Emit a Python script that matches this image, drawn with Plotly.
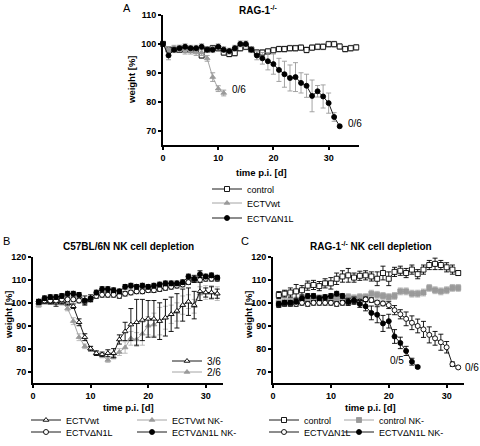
import plotly.graph_objects as go

FONT = "Liberation Sans"
BLACK = "#000000"
GRAY = "#9a9a9a"
LGRAY = "#b5b5b5"

# ---------------- Panel A: RAG-1-/- ----------------
a_days_ctrl = list(range(0, 36))
a_ctrl = [100, 98, 98, 98, 98, 98, 98, 96, 98, 98.5, 98.5, 97, 96.5, 96.8, 98.5, 99, 98, 97,
          97, 97.4, 97.8, 98.2, 98.2, 98.5, 98.5, 98.7, 97.9, 98.7, 99, 99, 99.9, 99.9, 99.1,
          98.2, 98.5, 98.8]
a_ctrl_err = [0, 1, 1, 1, 1.5, 1, 1, 1, 1, 1, 1, 1, 1, 1, 1, 1, 1, 1, 1, 1, 1, 1, 1, 1, 1,
              1, 1, 1, 1, 1, 1, 1, 1, 1, 1, 1]
a_days_wt = list(range(0, 12))
a_wt = [100, 98, 98.5, 98.5, 98, 97.5, 97, 97, 95, 88.5, 84.5, 83]
a_wt_err = [0, 1, 1, 1, 1, 1, 1, 1, 1, 1.5, 1, 1]
a_days_dn = list(range(0, 33))
a_dn = [100, 96, 98, 98.5, 99, 98.5, 98.5, 99, 98, 98, 99, 98, 97.5, 98.5, 100, 100, 98, 96,
        95, 94, 93, 91, 89.5, 88.2, 88.5, 86.5, 85.5, 82, 83.6, 81.8, 79.5, 74.7, 71.5]
a_dn_err = [0, 1.5, 1, 1, 1, 1, 1, 1, 1, 1, 1, 1, 1, 1, 1, 1, 1, 1.5, 2, 3, 3.5, 4, 4.5, 4.5,
            5, 3.5, 4, 5.5, 2, 4, 3.5, 1.5, 0.5]

# ---------------- Panel B: C57BL/6N NK cell depletion ----------------
b_days = list(range(1, 33))
b_wt = [100, 100.5, 100.5, 100, 100.5, 100, 98.5, 91.5, 85, 80, 78, 77.5, 78, 78, 84, 87.5,
        90.5, 91.5, 92.5, 93, 93, 92, 93.5, 95, 96.5, 99, 100.5, 99, 105, 104.5, 104.5, 104]
b_wt_err = [0.5, 0.5, 1, 1.5, 1, 1, 1, 1.5, 1.5, 1, 1, 1, 1.5, 2, 2, 4, 7, 10, 9, 8, 8, 8, 8,
            7.5, 7.5, 7, 6, 6, 4, 2, 2.5, 2]
b_wtnk = [99, 100, 100, 100.5, 100, 97.5, 92, 85, 81, 80, 78, 77, 75, 76.5, 78.5, 80.5, 84.5,
          84, 86.5, 90, 90.5, 92, 93.5, 95, 96, 99, 100.5, 98.5, 104, 104.5, 104.5, 104]
b_wtnk_err = [1, 0.5, 0.5, 1, 1, 1, 1.5, 1.5, 1, 1, 1, 1, 1, 1, 1.5, 2.5, 3, 3, 5, 4, 5, 6, 5,
              4, 4, 4, 3, 3, 3, 3, 3, 3]
b_dn = [100.5, 101, 101, 101, 101.5, 101.5, 101.5, 101, 100.5, 101.5, 103, 103.5, 103.5,
        103.5, 103, 104, 104.5, 105, 105, 105.5, 105.5, 106, 106.5, 107, 107.5, 108, 109, 110,
        110, 110.5, 110.5, 110.5]
b_dn_err = [1, 1, 1, 1, 1, 1, 1, 1, 1, 1, 1, 1, 1, 1, 1, 1, 1, 1, 1, 1, 1, 1, 1, 1, 1, 1, 1,
            1, 1, 1, 1, 1]
b_dnnk = [100.5, 102, 102.5, 102.5, 103, 104, 104, 103.5, 101, 102, 104.5, 106, 106, 105.5,
          105, 107, 107.5, 107, 107.5, 107, 107.5, 108, 108.5, 108.5, 108.5, 109, 111.5, 110.5,
          112.5, 111.5, 112, 111]
b_dnnk_err = [1, 1, 1, 1, 1, 1, 1, 1, 2, 1.5, 1, 1, 1, 1, 1, 1, 1, 1, 1, 1, 1, 1, 1, 1, 1, 1,
              1, 1.5, 1.5, 1, 1, 1]

# ---------------- Panel C: RAG-1-/- NK cell depletion ----------------
c_days = list(range(1, 33))
c_ctrl = [103.4, 104, 104.5, 105, 105.5, 107.5, 107.8, 107.3, 108.5, 108.5, 110.5, 111.5, 112,
          111, 111.8, 112, 111.5, 110.5, 113, 110.5, 113.5, 114, 113, 114.5, 112.5, 114.5,
          116.5, 117, 116.5, 115.5, 114.5, 113]
c_ctrl_err = [1.5, 1.5, 2, 3, 2, 2, 2, 2, 2, 2.5, 2.5, 2.5, 3, 2, 2, 2, 2, 3, 3, 3, 2, 2, 2, 2,
              2, 2, 2, 2.5, 2, 2, 2, 1]
c_ctrlnk = [100, 100.5, 101, 101, 101.5, 101.5, 102, 102, 102, 101.5, 102, 102, 102.5, 102,
            102.5, 102.5, 104, 103.5, 103, 102.5, 103, 105, 105, 104, 104, 104.5, 106.5, 105.5,
            105, 105.5, 106.5, 106.5]
c_ctrlnk_err = [1.5, 1.5, 1.5, 1.5, 1.5, 1.5, 1.5, 1.5, 1.5, 1.5, 1.5, 1.5, 1.5, 1.5, 1.5, 1.5,
                1.5, 1.5, 1.5, 1.5, 1.5, 1.5, 1.5, 1.5, 1.5, 1.5, 1.5, 1.5, 1.5, 1.5, 1.5, 1.5]
c_dn = [99, 99.5, 99.5, 99.5, 100, 99.5, 100, 100, 100, 100, 99.5, 100, 100, 100.5, 100.5,
        101.5, 101.2, 100.1, 99.7, 99, 96.8, 95, 93, 91.3, 89.9, 88.4, 86, 84.5, 82.8, 80.6,
        73.2, 71.8]
c_dn_err = [1, 1, 1, 1, 1, 1, 1, 1, 1, 1, 1, 1, 1, 1, 1, 1, 1, 1, 1, 1.5, 2, 2, 3, 3, 3, 3.5,
            3.5, 3, 3.5, 2.5, 1, 0.5]
c_days_dnnk = list(range(1, 26))
c_dnnk = [99.5, 100, 100, 100.5, 102, 103, 103, 102, 102.5, 103, 104, 103, 100.5, 101, 99.5,
          98.5, 95.6, 94.8, 91, 92, 85.3, 82.5, 79, 74.3, 72]
c_dnnk_err = [1, 1, 1, 1, 1, 1, 1, 1, 1, 1, 1, 1, 1.5, 1.5, 1.5, 2, 3, 3.5, 3.5, 3, 3, 2.5, 2,
              1.5, 0.5]

x_ticks = [0, 10, 20, 30]
a_y_ticks = [70, 80, 90, 100, 110]
bc_y_ticks = [70, 80, 90, 100, 110, 120]

W, H = 480, 446


def px_x(p):
    return p / W


def px_y(p):
    return 1 - p / H


def series(x, y, err, name, sym, fill, col, ecol, xa, ya, leg, size=5):
    return go.Scatter(
        x=x, y=y, name=name, mode="lines+markers", xaxis=xa, yaxis=ya, legend=leg,
        line=dict(color=col, width=0.9),
        marker=dict(symbol=sym, size=size, color=fill, line=dict(color=col, width=0.9)),
        error_y=dict(type="data", array=err, color=ecol, thickness=0.9, width=2.5),
        cliponaxis=False,
    )


fig = go.Figure()

# Panel A
fig.add_trace(series(a_days_ctrl, a_ctrl, a_ctrl_err, "control", "square", "white", BLACK, GRAY, "x", "y", "legend"))
fig.add_trace(series(a_days_wt, a_wt, a_wt_err, "ECTVwt", "triangle-up", GRAY, GRAY, GRAY, "x", "y", "legend2"))
fig.add_trace(series(a_days_dn, a_dn, a_dn_err, "ECTVΔN1L", "circle", BLACK, BLACK, GRAY, "x", "y", "legend3"))

# Panel B
fig.add_trace(series(b_days, b_wtnk, b_wtnk_err, "ECTVwt NK-", "triangle-up", GRAY, GRAY, LGRAY, "x2", "y2", "legend6"))
fig.add_trace(series(b_days, b_wt, b_wt_err, "ECTVwt", "triangle-up", "white", BLACK, BLACK, "x2", "y2", "legend4"))
fig.add_trace(series(b_days, b_dn, b_dn_err, "ECTVΔN1L", "circle", "white", BLACK, BLACK, "x2", "y2", "legend5"))
fig.add_trace(series(b_days, b_dnnk, b_dnnk_err, "ECTVΔN1L NK-", "circle", BLACK, BLACK, BLACK, "x2", "y2", "legend7"))
# survival keys in B
fig.add_trace(go.Scatter(x=[None], y=[None], name="3/6", mode="lines+markers", xaxis="x2", yaxis="y2",
                         legend="legend12", line=dict(color=BLACK, width=0.9),
                         marker=dict(symbol="triangle-up", size=5, color="white", line=dict(color=BLACK, width=0.9))))
fig.add_trace(go.Scatter(x=[None], y=[None], name="2/6", mode="lines+markers", xaxis="x2", yaxis="y2",
                         legend="legend13", line=dict(color=GRAY, width=0.9),
                         marker=dict(symbol="triangle-up", size=5, color=GRAY, line=dict(color=GRAY, width=0.9))))

# Panel C
fig.add_trace(series(c_days, c_ctrlnk, c_ctrlnk_err, "control NK-", "square", GRAY, GRAY, LGRAY, "x3", "y3", "legend10"))
fig.add_trace(series(c_days, c_ctrl, c_ctrl_err, "control", "square", "white", BLACK, BLACK, "x3", "y3", "legend8"))
fig.add_trace(series(c_days, c_dn, c_dn_err, "ECTVΔN1L", "circle", "white", BLACK, BLACK, "x3", "y3", "legend9"))
fig.add_trace(series(c_days_dnnk, c_dnnk, c_dnnk_err, "ECTVΔN1L NK-", "circle", BLACK, BLACK, BLACK, "x3", "y3", "legend11"))

tickfont = dict(family=FONT, size=9, color="black", weight="bold")
titlefont = dict(family=FONT, size=9.5, color="black", weight="bold")


def xax(domain, rng, anchor):
    return dict(domain=domain, range=rng, anchor=anchor, tickvals=x_ticks, showline=True,
                linecolor="black", linewidth=2, ticks="outside", ticklen=3, tickwidth=1.5,
                tickcolor="black", showgrid=False, zeroline=False, tickfont=tickfont,
                automargin=False, fixedrange=True)


def yax(domain, rng, anchor, tv):
    return dict(domain=domain, range=rng, anchor=anchor, tickvals=tv, showline=True,
                linecolor="black", linewidth=2, ticks="outside", ticklen=3, tickwidth=1.5,
                tickcolor="black", showgrid=False, zeroline=False, tickfont=tickfont,
                automargin=False, fixedrange=True)


def leg(text_x, row_y, size=9):
    return dict(x=px_x(text_x - 40), y=px_y(row_y), xanchor="left", yanchor="middle",
                bgcolor="rgba(0,0,0,0)", borderwidth=0, itemwidth=30,
                font=dict(family=FONT, size=size, color="black"))


fig.update_layout(
    template="none",
    width=W, height=H, margin=dict(l=0, r=0, t=0, b=0, autoexpand=False),
    paper_bgcolor="white", plot_bgcolor="white",
    xaxis=xax([px_x(163), px_x(359)], [0, 35.5], "y"),
    yaxis=yax([px_y(145), px_y(15)], [65, 110], "x", a_y_ticks),
    xaxis2=xax([px_x(33), px_x(223)], [0, 33], "y2"),
    yaxis2=yax([px_y(383), px_y(257)], [65, 120], "x2", bc_y_ticks),
    xaxis3=xax([px_x(273), px_x(464)], [0, 33], "y3"),
    yaxis3=yax([px_y(383), px_y(257)], [65, 120], "x3", bc_y_ticks),
    legend=leg(247, 189), legend2=leg(247, 203), legend3=leg(247, 218),
    legend4=leg(66, 420), legend5=leg(66, 432),
    legend6=leg(172, 420), legend7=leg(172, 432),
    legend8=leg(304, 420), legend9=leg(304, 432),
    legend10=leg(379, 420), legend11=leg(379, 432),
    legend12=leg(207, 361, 10), legend13=leg(207, 372, 10),
    showlegend=True,
)

ann_font = dict(family=FONT, size=10, color="black")
panel_font = dict(family=FONT, size=11, color="black")
head_font = dict(family=FONT, size=10, color="black", weight="bold")


def paper_text(text, x, y, font, angle=0):
    return dict(text=text, x=px_x(x), y=px_y(y), xref="paper", yref="paper", showarrow=False,
                xanchor="center", yanchor="middle", font=font, textangle=angle)


annotations = [
    paper_text("A", 127, 8, panel_font),
    paper_text("B", 6, 241, panel_font),
    paper_text("C", 245, 241, panel_font),
    paper_text("RAG-1<sup>-/-</sup>", 258, 10, head_font),
    paper_text("C57BL/6N NK cell depletion", 128, 246, head_font),
    paper_text("RAG-1<sup>-/-</sup> NK cell depletion", 371, 246, head_font),
    paper_text("time p.i. [d]", 261, 172, titlefont),
    paper_text("time p.i. [d]", 128, 407, titlefont),
    paper_text("time p.i. [d]", 370, 407, titlefont),
    paper_text("weight [%]", 132, 80, titlefont, -90),
    paper_text("weight [%]", 8, 315, titlefont, -90),
    paper_text("weight [%]", 248, 315, titlefont, -90),
    dict(text="0/6", x=a_days_wt[-1], y=a_wt[-1], xref="x", yref="y", xanchor="left", yanchor="middle",
         xshift=6, yshift=4, showarrow=False, font=ann_font),
    dict(text="0/6", x=a_days_dn[-1], y=a_dn[-1], xref="x", yref="y", xanchor="left", yanchor="middle",
         xshift=6, yshift=3, showarrow=False, font=ann_font),
    dict(text="0/5", x=c_days_dnnk[-1], y=c_dnnk[-1], xref="x3", yref="y3", xanchor="right", yanchor="middle",
         xshift=-12, yshift=6, showarrow=False, font=ann_font),
    dict(text="0/6", x=c_days[-1], y=c_dn[-1], xref="x3", yref="y3", xanchor="left", yanchor="middle",
         xshift=5, showarrow=False, font=ann_font),
]
fig.update_layout(annotations=annotations)

# remove the default 8 px page margin so the 480x446 figure fills the window
fig.write_html("out.html", config={"displayModeBar": False},
               post_script="document.body.style.margin='0px';")
